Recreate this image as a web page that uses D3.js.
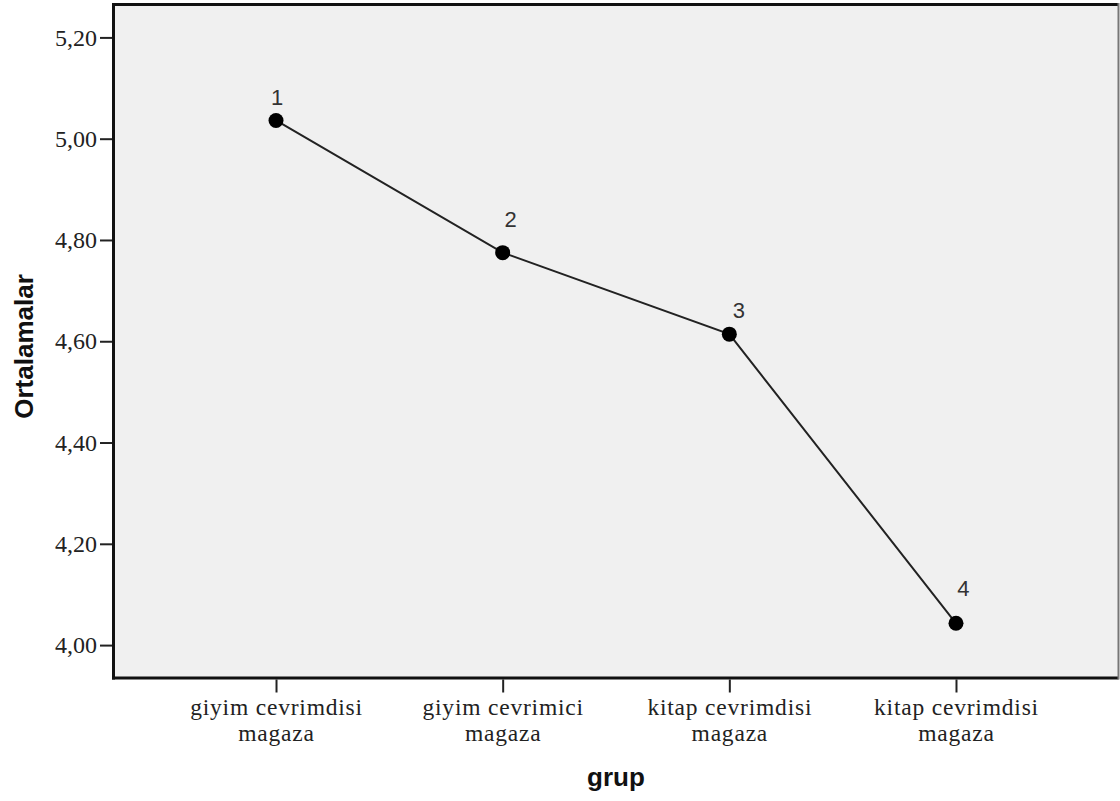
<!DOCTYPE html>
<html>
<head>
<meta charset="utf-8">
<script src="https://cdn.jsdelivr.net/npm/d3@7"></script>
<style>
  html, body { margin: 0; padding: 0; background: #fff; }
  svg { display: block; }
</style>
</head>
<body>
<svg id="chart" width="1120" height="801"></svg>
<script>
// ---- data ----
const groups = [1, 2, 3, 4];
const categories = [
  "giyim cevrimdisi magaza",
  "giyim cevrimici magaza",
  "kitap cevrimdisi magaza",
  "kitap cevrimdisi magaza"
];
const means = [5.036, 4.775, 4.614, 4.043];
const yTicks = [4.00, 4.20, 4.40, 4.60, 4.80, 5.00, 5.20];
const yTitle = "Ortalamalar";
const xTitle = "grup";

// ---- layout ----
const svg = d3.select("#chart");
const pL = 113.5, pR = 1118.5, pT = 4.5, pB = 678;

const x = d3.scalePoint().domain(groups).range([pL, pR]).padding(0.717);
const y = d3.scaleLinear().domain([3.935, 5.265]).range([pB, pT]);

// plot background
svg.append("rect")
  .attr("x", pL).attr("y", pT)
  .attr("width", pR - pL).attr("height", pB - pT)
  .attr("fill", "#f0f0f0");

// y axis
const fmt = d3.format(".2f");
const yAxis = svg.append("g")
  .attr("transform", `translate(${pL - 1.5},0)`)
  .call(d3.axisLeft(y).tickValues(yTicks).tickSize(12).tickPadding(3)
    .tickFormat(d => fmt(d).replace(".", ",")));
yAxis.select(".domain").remove();
yAxis.selectAll(".tick line").attr("stroke", "#222").attr("stroke-width", 2);
yAxis.selectAll(".tick text")
  .attr("font-family", "'Liberation Serif', serif")
  .attr("font-size", 24)
  .attr("fill", "#222");

// x axis
const xAxis = svg.append("g")
  .attr("transform", `translate(0,${pB + 1.5})`)
  .call(d3.axisBottom(x).tickSize(13).tickFormat(""));
xAxis.select(".domain").remove();
xAxis.selectAll(".tick line").attr("stroke", "#222").attr("stroke-width", 2);
xAxis.selectAll(".tick").each(function(d, i) {
  const label = categories[i];
  const cut = label.lastIndexOf(" ");
  const lines = [label.slice(0, cut), label.slice(cut + 1)];
  lines.forEach((ln, k) => {
    d3.select(this).append("text")
      .attr("x", 0).attr("y", 35 + k * 26)
      .attr("text-anchor", "middle")
      .attr("font-family", "'Liberation Serif', serif")
      .attr("font-size", 23.5)
      .attr("letter-spacing", 0.8)
      .attr("fill", "#222")
      .text(ln);
  });
});

// frame
const frame = svg.append("g");
frame.append("line").attr("x1", pL - 1.5).attr("x2", pR).attr("y1", pT).attr("y2", pT)
  .attr("stroke", "#111").attr("stroke-width", 3);
frame.append("line").attr("x1", pL).attr("x2", pL).attr("y1", pT - 1.5).attr("y2", pB + 1.5)
  .attr("stroke", "#111").attr("stroke-width", 3);
frame.append("line").attr("x1", pL - 1.5).attr("x2", pR).attr("y1", pB).attr("y2", pB)
  .attr("stroke", "#111").attr("stroke-width", 3);
frame.append("line").attr("x1", pR).attr("x2", pR).attr("y1", pT - 1.5).attr("y2", pB + 1.5)
  .attr("stroke", "#777").attr("stroke-width", 2);

// line + points
const pts = groups.map((g, i) => ({ g, v: means[i] }));
svg.append("path")
  .datum(pts)
  .attr("fill", "none")
  .attr("stroke", "#222")
  .attr("stroke-width", 2)
  .attr("d", d3.line().x(d => x(d.g)).y(d => y(d.v)));

svg.selectAll("circle.pt").data(pts).join("circle")
  .attr("class", "pt")
  .attr("cx", d => x(d.g)).attr("cy", d => y(d.v))
  .attr("r", 7.5).attr("fill", "#000");

// point labels (placement nudges as in the reference)
const nudge = [[1, -15], [8, -26], [9.5, -16], [7.5, -27]];
svg.selectAll("text.pl").data(pts).join("text")
  .attr("class", "pl")
  .attr("x", (d, i) => x(d.g) + nudge[i][0])
  .attr("y", (d, i) => y(d.v) + nudge[i][1])
  .attr("text-anchor", "middle")
  .attr("font-family", "'Liberation Sans', sans-serif")
  .attr("font-size", 22)
  .attr("fill", "#333")
  .text(d => d.g);

// axis titles
svg.append("text")
  .attr("transform", `translate(33,346.5) rotate(-90)`)
  .attr("text-anchor", "middle")
  .attr("font-family", "'Liberation Sans', Arial, sans-serif")
  .attr("font-weight", "bold")
  .attr("font-size", 26)
  .attr("fill", "#111")
  .text(yTitle);

svg.append("text")
  .attr("x", (pL + pR) / 2).attr("y", 786)
  .attr("text-anchor", "middle")
  .attr("font-family", "'Liberation Sans', Arial, sans-serif")
  .attr("font-weight", "bold")
  .attr("font-size", 26)
  .attr("fill", "#111")
  .text(xTitle);
</script>
</body>
</html>
